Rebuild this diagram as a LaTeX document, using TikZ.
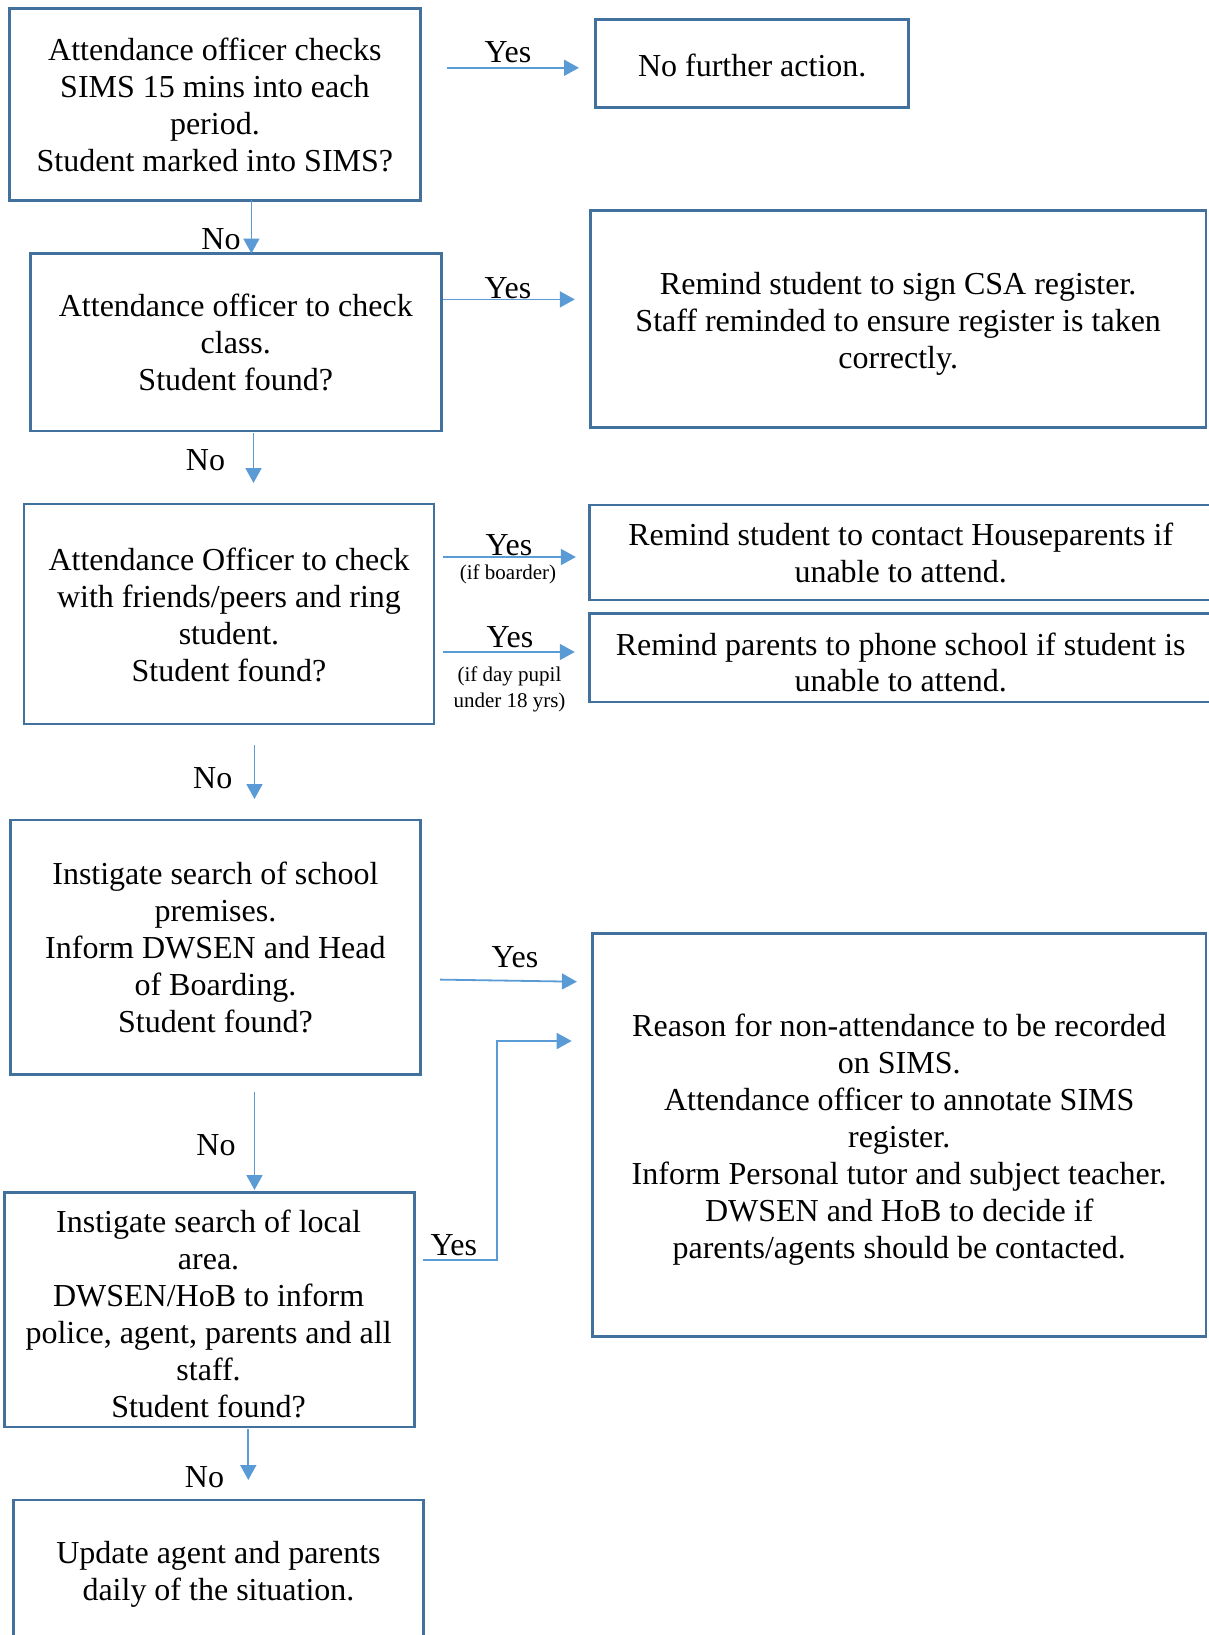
\documentclass[tikz,border=0pt]{standalone}
\usepackage{fontspec}
\setmainfont{Liberation Serif}
\usetikzlibrary{arrows.meta}
\definecolor{boxblue}{HTML}{41719C}
\definecolor{arrblue}{HTML}{5B9BD5}
\begin{document}
\begin{tikzpicture}[x=1pt,y=-1pt,
  box/.style={draw=boxblue,line width=2.6pt,inner sep=0pt},
  txt/.style={inner sep=0pt,align=center,font=\fontsize{32pt}{37pt}\selectfont},
  lbl/.style={inner sep=0pt,font=\fontsize{32pt}{37pt}\selectfont},
  small/.style={inner sep=0pt,align=center,font=\fontsize{21pt}{26pt}\selectfont},
  arr/.style={draw=arrblue,line width=1.8pt,-{Triangle[length=15pt,width=16pt]}}]
\useasboundingbox (0,0) rectangle (1208,1635);
% boxes
\node[box,minimum width=411pt,minimum height=192pt] (b1) at (214.9,104.3) {};
\node[txt] (t1) at (214.9,105.3)
  {Attendance officer checks\\SIMS 15 mins into each\\period.\\Student marked into SIMS?};
\node[box,minimum width=313pt,minimum height=87.6pt] (bn) at (752.2,63.6) {};
\node[txt] (tn) at (752.2,65.7) {No further action.};
\node[box,minimum width=411pt,minimum height=177.3pt] (b2) at (235.8,342.2) {};
\node[txt] (t2) at (235.8,342.6)
  {Attendance officer to check\\class.\\Student found?};
\node[box,minimum width=615.6pt,minimum height=217pt] (bcsa) at (898.2,319.2) {};
\node[txt] (tcsa) at (898.2,323.9)
  {Remind student to sign CSA register.\\Staff reminded to ensure register is taken\\correctly.};
\node[box,minimum width=410pt,minimum height=220pt] (b3) at (229,614) {};
\node[txt] (t3) at (229,614.5)
  {Attendance Officer to check\\with friends/peers and ring\\student.\\Student found?};
\node[box,minimum width=622.6pt,minimum height=94.8pt] (bboard) at (900.7,552.4) {};
\node[txt] (tboard) at (900.7,553.4)
  {Remind student to contact Houseparents if\\unable to attend.};
\node[box,minimum width=622.6pt,minimum height=88.6pt] (bday) at (900.7,657.7) {};
\node[txt] (tday) at (900.7,662.4)
  {Remind parents to phone school if student is\\[-1.5pt]unable to attend.};
\node[box,minimum width=410pt,minimum height=254.5pt] (b4) at (215.4,947.2) {};
\node[txt] (t4) at (215.4,947.2)
  {Instigate search of school\\premises.\\Inform DWSEN and Head\\of Boarding.\\Student found?};
\node[box,minimum width=613.5pt,minimum height=402.6pt] (breason) at (899.2,1135) {};
\node[txt] (treason) at (899.2,1139.2)
  {Reason for non-attendance to be recorded\\on SIMS.\\Attendance officer to annotate SIMS\\register.\\Inform Personal tutor and subject teacher.\\DWSEN and HoB to decide if\\parents/agents should be contacted.};
\node[box,minimum width=410pt,minimum height=234.6pt] (b5) at (209.2,1309.7) {};
\node[txt] (t5) at (208.6,1314)
  {Instigate search of local\\area.\\DWSEN/HoB to inform\\police, agent, parents and all\\staff.\\Student found?};
\node[box,minimum width=410pt,minimum height=143pt] (b6) at (218.5,1571.5) {};
\node[txt] (t6) at (218.5,1574.6)
  {Update agent and parents\\daily of the situation.};
% labels
\node[lbl] (y1) at (508,52) {Yes};
\node[lbl] (n1) at (221,239) {No};
\node[lbl] (y2) at (508,288) {Yes};
\node[lbl] (n2) at (205.5,460) {No};
\node[lbl] (y3) at (509,545.5) {Yes};
\node[small] (y3s) at (508,574.2) {(if boarder)};
\node[lbl] (y4) at (510,637) {Yes};
\node[small] (y4s) at (509.5,689) {(if day pupil\\under 18 yrs)};
\node[lbl] (n3) at (212.8,778) {No};
\node[lbl] (y5) at (515,957.6) {Yes};
\node[lbl] (n4) at (216,1145.4) {No};
\node[lbl] (y6) at (453.8,1245.6) {Yes};
\node[lbl] (n5) at (204.5,1477) {No};
% connector end points
\coordinate (a1s) at (446.5,67.8);   \coordinate (a1e) at (579,67.8);
\coordinate (d1s) at (251.4,200.3);  \coordinate (d1e) at (251.4,253.5);
\coordinate (a2s) at (443.4,299.4);  \coordinate (a2e) at (574.8,299.4);
\coordinate (d2s) at (253.5,433);    \coordinate (d2e) at (253.5,483);
\coordinate (a3s) at (443.4,557);    \coordinate (a3e) at (575.9,557);
\coordinate (a4s) at (443.4,652);    \coordinate (a4e) at (574.8,652);
\coordinate (d3s) at (254.5,745);    \coordinate (d3e) at (254.5,799);
\coordinate (a5s) at (440.2,979.6);  \coordinate (a5e) at (576.9,981.7);
\coordinate (d4s) at (254.5,1092);   \coordinate (d4e) at (254.5,1190);
\coordinate (a6s) at (422.5,1260);   \coordinate (a6m) at (496.6,1041); \coordinate (a6e) at (571.7,1041);
\coordinate (d5s) at (248.3,1429);   \coordinate (d5e) at (248.3,1480);
% connectors
\draw[arr] (a1s) -- (a1e);
\draw[arr] (d1s) -- (d1e);
\draw[arr] (a2s) -- (a2e);
\draw[arr] (d2s) -- (d2e);
\draw[arr] (a3s) -- (a3e);
\draw[arr] (a4s) -- (a4e);
\draw[arr] (d3s) -- (d3e);
\draw[arr] (a5s) -- (a5e);
\draw[arr] (d4s) -- (d4e);
\draw[arr] (a6s) -| (a6m) -- (a6e);
\draw[arr] (d5s) -- (d5e);
\end{tikzpicture}
\end{document}
